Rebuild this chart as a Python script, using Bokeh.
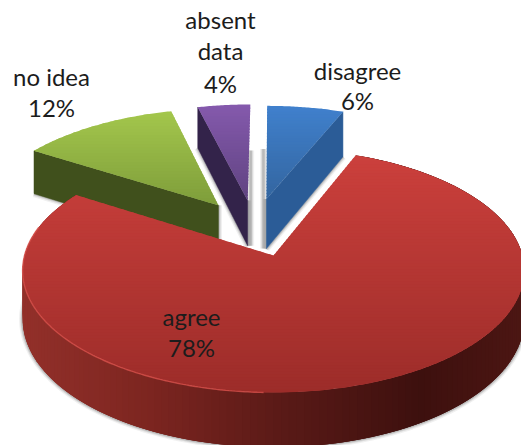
import numpy as np
from bokeh.core.properties import value
from bokeh.embed import file_html
from bokeh.models import Range1d
from bokeh.plotting import figure
from bokeh.resources import INLINE

# Survey answers, clockwise from twelve o'clock
categories = ["disagree", "agree", "no idea", "absent data"]
shares = [6, 78, 12, 4]

# Screen placement of the tilted disc: centre, radius, perspective and wall height
CX, CY = 273.0, 255.0
RX, RY, PERSP, WALL = 249.0, 120.2, 0.123, 48.0

# Exploded offset, radius and wall scale of each slice, in disc units
placement = {
    "disagree": (-0.03, 0.50, 0.97, 1.1),
    "agree": (0.0, 0.0, 1.0, 1.0),
    "no idea": (-0.233, 0.44, 1.0, 1.0),
    "absent data": (-0.11, 0.486, 1.0, 1.0),
}
top_colours = {
    "disagree": ("#4080cc", "#33659f"),
    "agree": ("#cb403c", "#9c2c29"),
    "no idea": ("#a3c64c", "#7d9c3a"),
    "absent data": ("#8459ac", "#5f4380"),
}
face_colours = {"disagree": "#2b5c97", "no idea": "#40501c", "absent data": "#33234a"}
wall_stops = [(20, "#93302a"), (150, "#7c2520"), (280, "#5a1a17"), (420, "#3d100e"), (521, "#4c1613")]
label_layout = {
    "disagree": (357, [("disagree", 70), ("6%", 100)]),
    "agree": (191, [("agree", 316), ("78%", 347)]),
    "no idea": (51, [("no idea", 76), ("12%", 107)]),
    "absent data": (220, [("absent", 19), ("data", 50), ("4%", 83)]),
}


def rgb(hex_colour):
    return np.array([int(hex_colour[i:i + 2], 16) for i in (1, 3, 5)], dtype=float)


def mix(a, b, t):
    c = rgb(a) * (1 - t) + rgb(b) * t
    return "#%02x%02x%02x" % tuple(int(round(v)) for v in c)


def project(u, v, z=0.0):
    s = 1 + PERSP * np.asarray(v, dtype=float)
    return CX + RX * np.asarray(u) / s, CY - RY * np.asarray(v) / s + z * WALL / s


def arc(name, a0, a1, z=0.0, n=None):
    u0, v0, r, h = placement[name]
    n = n or max(3, int(abs(a1 - a0)) * 2)
    t = np.radians(np.linspace(a0, a1, n))
    return project(u0 + r * np.sin(t), v0 + r * np.cos(t), z * h)


def apex(name, z=0.0):
    u0, v0, _, h = placement[name]
    return project(u0, v0, z * h)


def clip_band(xs, ys, lo, hi):
    """Clip a polygon to the horizontal band lo <= y <= hi."""
    pts = list(zip(xs, ys))
    for bound, keep in ((lo, lambda y: y >= lo), (hi, lambda y: y <= hi)):
        out = []
        for i, (x1, y1) in enumerate(pts):
            x0, y0 = pts[i - 1]
            if keep(y0) != keep(y1):
                t = (bound - y0) / (y1 - y0)
                out.append((x0 + t * (x1 - x0), bound))
            if keep(y1):
                out.append((x1, y1))
        pts = out
        if not pts:
            return [], []
    return [q[0] for q in pts], [q[1] for q in pts]


def shade_top(fig, xs, ys, colours, step=3.0):
    # Bands overlap downward, so no stroke is needed to close the seams
    lo, hi = min(ys), max(ys)
    for b in np.arange(lo, hi, step):
        cx, cy = clip_band(xs, ys, b, b + step + 1.5)
        if len(cx) >= 3:
            c = mix(colours[0], colours[1], (b - lo) / (hi - lo))
            fig.patch(cx, cy, fill_color=c, line_color=None)


def soft_edge(fig, xs, ys):
    for width, alpha in ((7, 0.07), (4.5, 0.12), (2.5, 0.18)):
        fig.line(xs, ys, line_color="#303030", line_alpha=alpha, line_width=width)


def wall_colour(x):
    for (x0, c0), (x1, c1) in zip(wall_stops, wall_stops[1:]):
        if x <= x1:
            return mix(c0, c1, max(0.0, (x - x0) / (x1 - x0)))
    return wall_stops[-1][1]


p = figure(width=521, height=445, x_range=Range1d(0, 521), y_range=Range1d(445, 0),
           output_backend="svg", toolbar_location=None, min_border=0)
p.axis.visible = False
p.grid.visible = False
p.outline_line_color = None

edges = np.concatenate([[0], np.cumsum(shares)]) * 360.0 / sum(shares)
spans = {name: (edges[i], edges[i + 1]) for i, name in enumerate(categories)}


def cut_face(name, angle):
    ox, oy = arc(name, angle, angle, 0.0, 2)
    bx, by = arc(name, angle, angle, 1.0, 2)
    ax, ay = apex(name)
    cx_, cy_ = apex(name, 1.0)
    return [ox[0], ax, cx_, bx[0]], [oy[0], ay, cy_, by[0]]


def draw_slice(name, face_angle):
    a0, a1 = spans[name]
    fx, fy = cut_face(name, face_angle)
    soft_edge(p, fx[1:], fy[1:])
    ax_, ay_ = apex(name)
    if name != "no idea":
        soft_edge(p, [ax_ + (3 if name == "absent data" else -3)] * 2, [ay_ - 50, fy[2]])
    p.patch(fx, fy, fill_color=face_colours[name], line_color=face_colours[name], line_width=0.5)
    ox, oy = arc(name, a0, a1)
    shade_top(p, [ax_, *ox], [ay_, *oy], top_colours[name])


draw_slice("no idea", spans["no idea"][0])
draw_slice("absent data", spans["absent data"][0])
draw_slice("disagree", spans["disagree"][1])

# The large slice: outer wall as narrow quads, then its top face and lit rim
a0, a1 = spans["agree"]
N = 180
rim_x, rim_y = arc("agree", a0, a1, 1.0, N)
soft_edge(p, rim_x, rim_y)
tx, ty = arc("agree", a0, a1, 0.0, N)
for i in range(N - 1):
    j = min(i + 3, N - 1)
    c = wall_colour((tx[i] + tx[i + 1]) / 2)
    p.patch([tx[i], tx[j], rim_x[j], rim_x[i]], [ty[i], ty[j], rim_y[j], rim_y[i]],
            fill_color=c, line_color=None)
ax_, ay_ = apex("agree")
shade_top(p, [ax_, *tx], [ay_, *ty], top_colours["agree"])
hx, hy = arc("agree", 182, 284, 0.0, 160)
p.line(hx, hy, line_color="#d9534e", line_alpha=0.75, line_width=1.4)

# Two-part labels: name and percentage, stacked as separate lines
for name in categories:
    x, rows = label_layout[name]
    p.text(x=[x] * len(rows), y=[r[1] for r in rows], text=[r[0] for r in rows],
           text_font=value("Lato"), text_font_size="24px", text_color="#1c1c1c",
           text_align="center", text_baseline="middle")

open("out.html", "w").write(file_html(p, INLINE))
